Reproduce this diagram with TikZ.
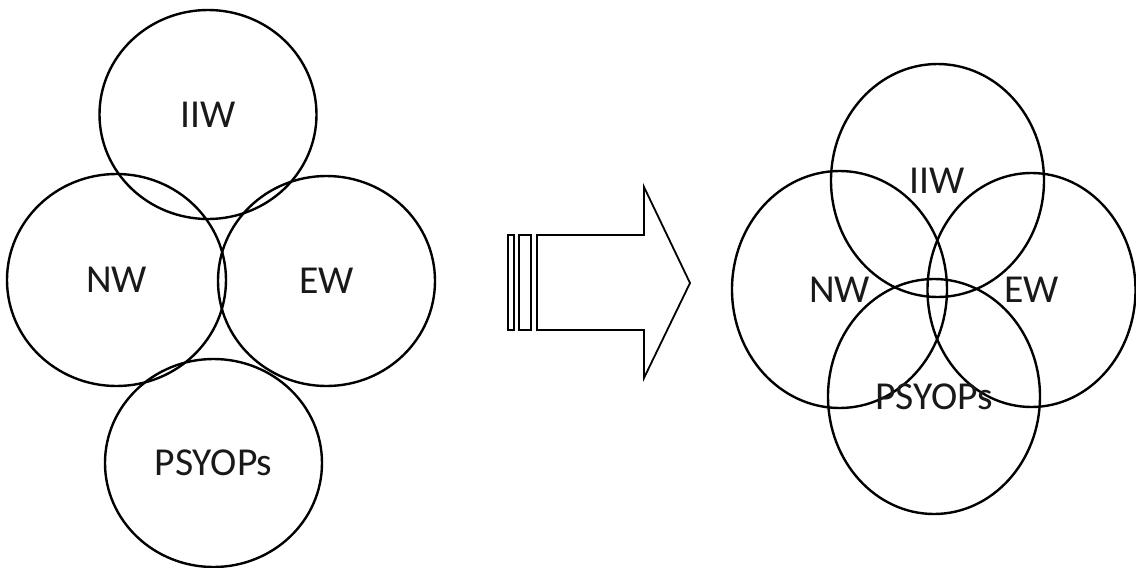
\documentclass[tikz,border=0pt]{standalone}
\usepackage{fontspec}
\setmainfont{Carlito}
\usetikzlibrary{shapes.geometric}
\begin{document}
\begin{tikzpicture}[x=1pt,y=-1pt,
  set/.style={draw=black, line width=2.4pt, ellipse, inner sep=0pt,
    font=\fontsize{39.6}{40}\selectfont, text=black!90},
  arrowline/.style={draw=black, line width=1.8pt, line join=miter}]
\useasboundingbox (0,0) rectangle (1136,568);
% left group
\node[set, minimum width=217pt, minimum height=209pt] (LI) at (208,114.5) {\raisebox{-1pt}{IIW}};
\node[set, minimum width=219pt, minimum height=212pt] (LN) at (116.5,280) {\raisebox{-2pt}{NW}};
\node[set, minimum width=217pt, minimum height=210pt] (LE) at (326.5,281) {\raisebox{-1pt}{EW}};
\node[set, minimum width=217pt, minimum height=208pt] (LP) at (213.5,463) {\raisebox{-2pt}{PSYOPs}};
% arrow
\draw[arrowline] (508,235) rectangle (514,330);
\draw[arrowline] (519,235) rectangle (531,330);
\draw[arrowline] (537,235) -- (644,235) -- (644,187) -- (690,283) -- (644,378) -- (644,330) -- (537,330) -- cycle;
% right group
\node[set, minimum width=213pt, minimum height=233pt] (RI) at (937.5,180.5) {\raisebox{-1.5pt}{IIW}};
\node[set, minimum width=215pt, minimum height=237pt] (RN) at (839.5,289.5) {\raisebox{-5.5pt}{NW}};
\node[set, minimum width=208pt, minimum height=234pt] (RE) at (1031.5,290) {\raisebox{-5pt}{EW}};
\node[set, minimum width=212pt, minimum height=235pt] (RP) at (934,396.5) {\raisebox{-2.5pt}{PSYOPs}};
\end{tikzpicture}
\end{document}
